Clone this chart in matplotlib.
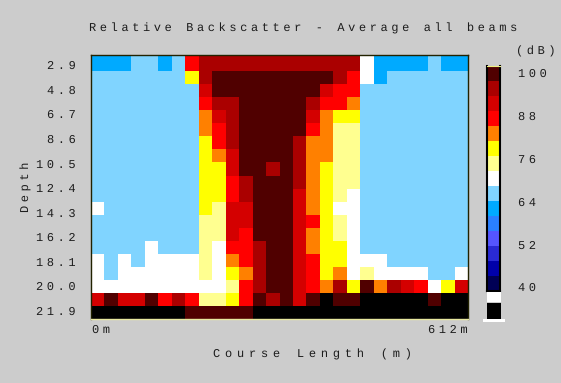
import numpy as np
import matplotlib
matplotlib.use("Agg")
import matplotlib.pyplot as plt
from matplotlib.colors import ListedColormap, BoundaryNorm
from matplotlib.patches import Rectangle

plt.rcParams["text.hinting"] = "no_hinting"
plt.rcParams["text.hinting_factor"] = 1

W, H = 561, 383
BG = "#cccccc"
FONT = ["Liberation Mono", "DejaVu Sans"]
FS = 8.68
INK = "#1c1c1c"

TITLE = "Relative Backscatter - Average all beams"
XLABEL = "Course Length (m)"
YLABEL = "Depth"
UNIT = "(dB)"
depth_labels = ["2.9", "4.8", "6.7", "8.6", "10.5", "12.4", "14.3", "16.2", "18.1", "20.0", "21.9"]
depth_ticks = [2.9, 4.8, 6.7, 8.6, 10.5, 12.4, 14.3, 16.2, 18.1, 20.0, 21.9]
course_labels = ["0m", "612m"]
scale_ticks = [100, 88, 76, 64, 52, 40]

# 15 bands of 4 dB each, from 40 to 100 dB (the dithered bands of the original as their mean colour)
band_colors = ["#000055", "#0000aa", "#2a2ad4", "#5555ff", "#2a80ff", "#00aaff", "#80d4ff", "#ffffff",
               "#ffff90", "#ffff00", "#ff8000", "#ff0000", "#d40000", "#aa0000", "#500000"]
band_edges = list(range(40, 104, 4))
# dB per cell letter; K means no data
cell_db = {"S": 66, "F": 62, "W": 70, "L": 74, "Y": 78, "O": 82, "R": 86, "B": 90, "C": 94, "D": 98, "K": 20}

rows = [
    "FFFSSFSR" + "C" * 12 + "WFFFFSFF",
    "SSSSSSSYC" + "D" * 9 + "CRWFSSSSSS",
    "S" * 8 + "B" + "D" * 8 + "BRR" + "S" * 8,
    "S" * 8 + "RCC" + "D" * 5 + "CRRO" + "S" * 8,
    "S" * 8 + "OBC" + "D" * 5 + "BOYY" + "S" * 8,
    "S" * 8 + "ORC" + "D" * 5 + "ROLL" + "S" * 8,
    "S" * 8 + "YRC" + "D" * 4 + "COOLL" + "S" * 8,
    "S" * 8 + "YOB" + "D" * 4 + "COOLL" + "S" * 8,
    "S" * 8 + "YYBDDCDCOYLL" + "S" * 8,
    "S" * 8 + "YYRCDDDCOYLL" + "S" * 8,
    "S" * 8 + "YYRCDDDBOYLW" + "S" * 8,
    "W" + "S" * 7 + "YLBBDDDBOYWW" + "S" * 8,
    "S" * 8 + "LLBBDDDBRYLW" + "S" * 8,
    "S" * 8 + "LLBRDDDBOYLW" + "S" * 8,
    "SSSSWSSSLWRRCDDBOYYW" + "S" * 8,
    "WSWSWWWWLWORCDDBRYYWWW" + "S" * 6,
    "WSWWWWWWLWYOCDDBRYOWLWWWWSSW",
    "WWWWWWWWWWLRCDDBROCYDOCBRWYB",
    "BDBBDRCRLLYRDCDBDKDDKKKKKDKK",
    "K" * 7 + "D" * 5 + "K" * 16,
]
grid = np.array([[cell_db[c] for c in r] for r in rows], dtype=float)


def spaced(s, gap="\u2009\u200a"):
    return gap.join(s)


def put(x, y, s, gap="\u2009\u200a", **kw):
    return fig.text(x / W, 1 - y / H, spaced(s, gap), fontsize=FS, family=FONT, color=INK, **kw)


fig = plt.figure(figsize=(W / 100, H / 100), dpi=100, facecolor=BG)
L, R, T, B = 91, 468, 55, 319
ax = fig.add_axes([L / W, 1 - B / H, (R - L) / W, (B - T) / H])

px_per_m = 12.9
d_top = 2.9 - (65 - T) / px_per_m
d_bot = 2.9 + (B - 65) / px_per_m
row_px = np.r_[T, 71 + 13.07 * np.arange(grid.shape[0])]
y_edges = 2.9 + (row_px - 65) / px_per_m
x_edges = np.linspace(0, 612, grid.shape[1] + 1)

cmap = ListedColormap(band_colors)
cmap.set_under("#000000")
norm = BoundaryNorm(band_edges, cmap.N)
ax.pcolormesh(x_edges, y_edges, grid, cmap=cmap, norm=norm, linewidth=0)
ax.set_xlim(0, 612)
ax.set_ylim(d_bot, d_top)
ax.set_yticks(depth_ticks)
ax.set_yticklabels([spaced(s) for s in depth_labels], family=FONT, fontsize=FS, color=INK)
ax.tick_params(axis="y", length=0, pad=11)
ax.set_xticks([])
for name, sp in ax.spines.items():
    sp.set_linewidth(1.0)
    sp.set_color("#222200" if name in ("left", "top", "right") else "#e8e8a0")

put(89, 28, TITLE, va="center", ha="left")
put(312.5, 354, XLABEL, gap="\u2009\u2009", va="center", ha="center")
put(26, 187, YLABEL, va="center", ha="center", rotation=90)
put(92, 330, course_labels[0], va="center", ha="left")
put(468, 330, course_labels[1], va="center", ha="right")
put(516, 51, UNIT, va="center", ha="left")

# colour scale
cb_top, cb_bot = 66, 291
cax = fig.add_axes([487 / W, 1 - cb_bot / H, 13 / W, (cb_bot - cb_top) / H])
cax.pcolormesh([0, 1], band_edges, np.array(band_edges[:-1])[:, None] + 2, cmap=cmap, norm=norm)
cax.set_xticks([])
cax.set_yticks([])
for name, sp in cax.spines.items():
    sp.set_linewidth(1.5)
    sp.set_color("#000000")
cax.spines["top"].set_color("#f0f080")
cax.spines["top"].set_linewidth(0.8)
for v, yp in zip(scale_ticks, [74, 117, 160, 202.5, 245.5, 288]):
    put(518, yp, str(v), va="center", ha="left")

for x0, y0, x1, y1, c in [(487, 292, 500.5, 302, "#ffffff"), (487, 302.5, 500.5, 318.5, "#000000"),
                          (482.5, 318.5, 505, 321.5, "#ffffff")]:
    fig.add_artist(Rectangle((x0 / W, 1 - y1 / H), (x1 - x0) / W, (y1 - y0) / H,
                             transform=fig.transFigure, facecolor=c, edgecolor="none"))

fig.savefig("out.png", dpi=100, facecolor=BG)
